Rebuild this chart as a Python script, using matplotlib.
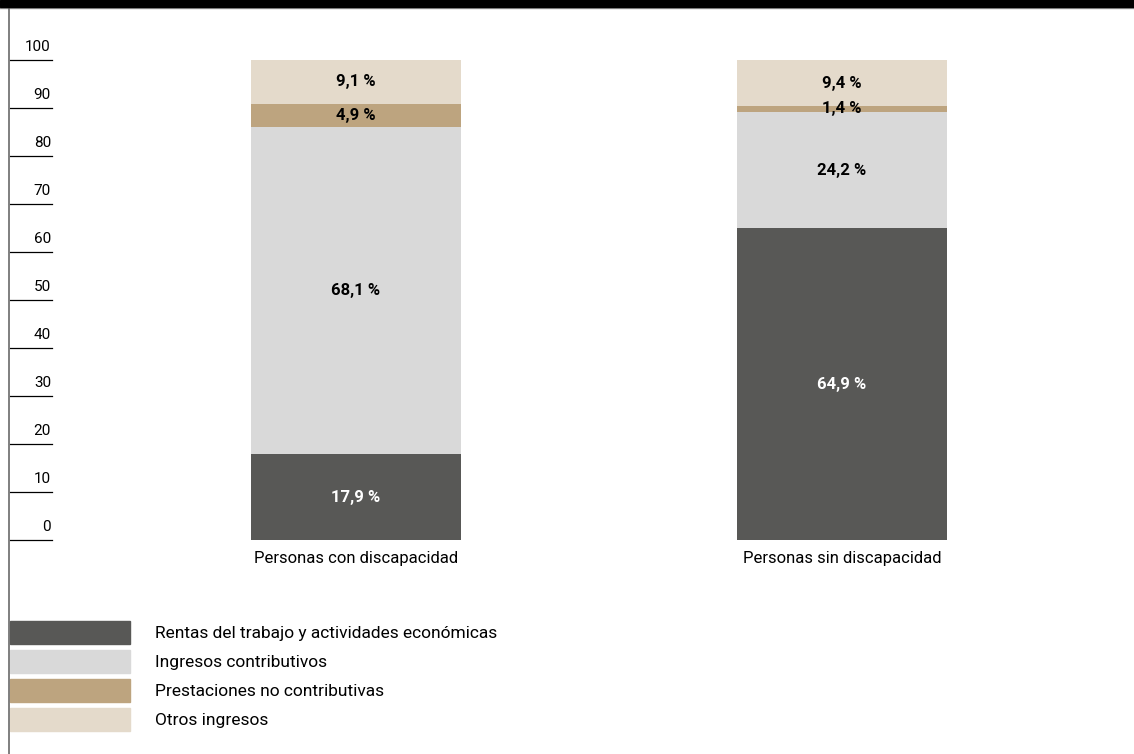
import matplotlib
matplotlib.use("Agg")
import matplotlib.pyplot as plt
from matplotlib.patches import Rectangle
from matplotlib.lines import Line2D

categories = ["Personas con discapacidad", "Personas sin discapacidad"]
series_names = ["Rentas del trabajo y actividades económicas",
                "Ingresos contributivos",
                "Prestaciones no contributivas",
                "Otros ingresos"]
rentas = [17.9, 64.9]
contributivos = [68.1, 24.2]
no_contributivas = [4.9, 1.4]
otros = [9.1, 9.4]
series_values = [rentas, contributivos, no_contributivas, otros]
colors = ["#585856", "#d9d9d9", "#bda47f", "#e4dacb"]
label_colors = ["white", "black", "black", "black"]
yticks = list(range(0, 101, 10))

W, H = 1134, 754
fig = plt.figure(figsize=(W / 100, H / 100), dpi=100)

def fx(px):
    return px / W

def fy(py):
    return 1 - py / H

cond = ["Liberation Sans Narrow", "Roboto", "DejaVu Sans"]
reg = ["Roboto", "DejaVu Sans"]

# main axes: y 0 at 540 px, 100 at 60 px
ax = fig.add_axes([0, fy(540), 1, (540 - 60) / H])
ax.set_ylim(0, 100)
# map category 0 -> 356 px, category 1 -> 842 px
scale = 842 - 356
ax.set_xlim(-356 / scale, (W - 356) / scale)
ax.axis("off")

bw = 210 / scale
x = list(range(len(categories)))
bottoms = [0.0] * len(categories)
for vals, col, lc in zip(series_values, colors, label_colors):
    ax.bar(x, vals, width=bw, bottom=bottoms, color=col, linewidth=0)
    for i, v in enumerate(vals):
        ax.text(x[i], bottoms[i] + v / 2, f"{v:.1f} %".replace(".", ","),
                ha="center", va="center", fontsize=12, fontweight="bold",
                color=lc, family=cond)
    bottoms = [b + v for b, v in zip(bottoms, vals)]

for i, c in enumerate(categories):
    ax.annotate(c, (x[i], 0), xytext=(0, -8), textcoords="offset points",
                ha="center", va="top", fontsize=12, family=cond)

# tick lines and labels
for t in yticks:
    ax.axhline(t, xmin=fx(10), xmax=fx(52), color="black", linewidth=0.9,
               clip_on=False)
    ax.annotate(str(t), (fx(51), t), xycoords=("axes fraction", "data"),
                xytext=(0, 4), textcoords="offset points",
                ha="right", va="bottom", fontsize=11, family=reg)

# frame: top black band and left line
fig.patches.append(Rectangle((0, fy(7)), 1, fy(0) - fy(7), transform=fig.transFigure,
                             color="black", zorder=5))
fig.lines.append(Line2D([0, 1], [fy(8), fy(8)], transform=fig.transFigure,
                        color="#9a9a9a", linewidth=1))
fig.lines.append(Line2D([fx(8.5), fx(8.5)], [0, fy(7)], transform=fig.transFigure,
                        color="#6a6a6a", linewidth=1.2))

# legend
for k, (name, col) in enumerate(zip(series_names, colors)):
    top = 621 + 29 * k
    fig.patches.append(Rectangle((fx(10), fy(top + 23)), fx(130) - fx(10), fy(top) - fy(top + 23),
                                 transform=fig.transFigure, color=col))
    fig.text(fx(155), fy(top + 12.5), name, ha="left", va="center",
             fontsize=12.5, family=reg)

fig.savefig("out.png", dpi=100)
